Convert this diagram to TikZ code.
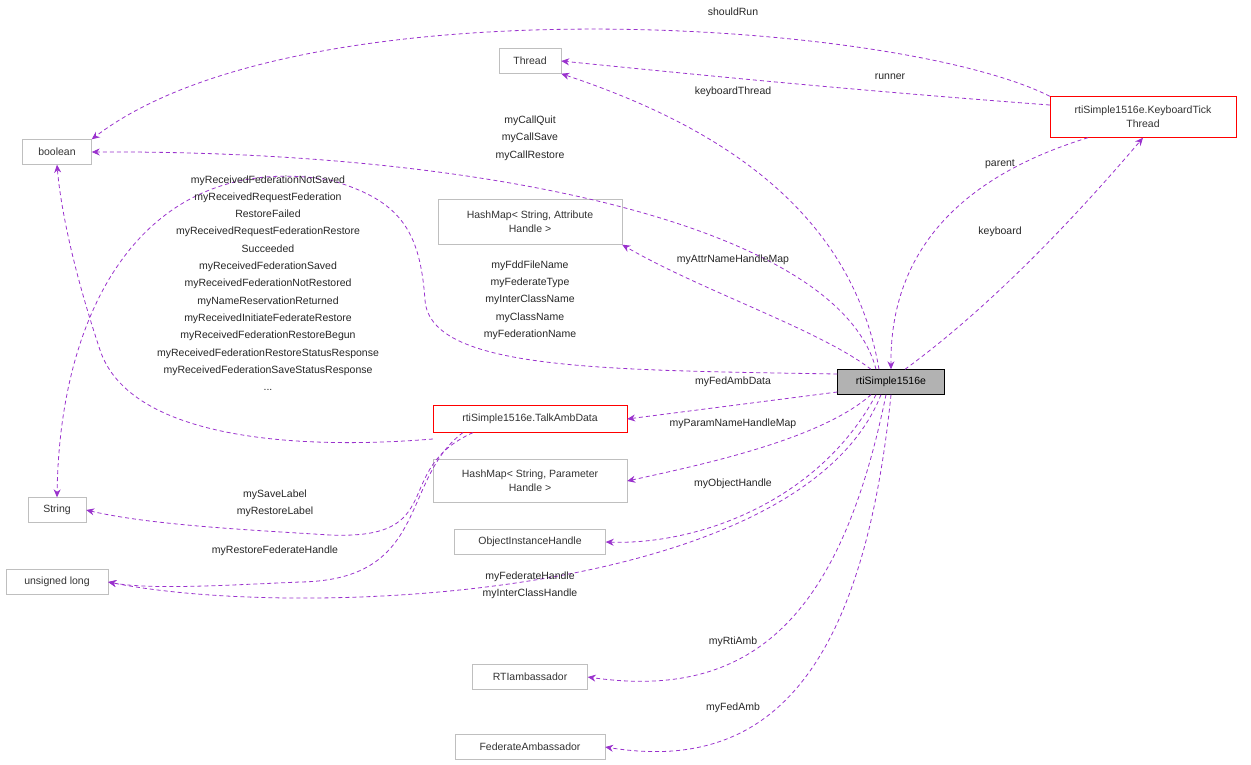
\documentclass[tikz,border=0pt]{standalone}
\usepackage{fontspec}
\setmainfont{Liberation Sans}
\usetikzlibrary{arrows.meta}
\definecolor{edgecol}{HTML}{9A32CD}
\definecolor{boxgray}{HTML}{BFBFBF}
\begin{document}
\begin{tikzpicture}[x=1pt,y=-1pt,
    every node/.style={font=\fontsize{10.5}{17.3}\selectfont},
    cls/.style={draw=boxgray,fill=white,inner sep=2pt,minimum height=25pt,align=center,text=black!80,
        font=\fontsize{10.5}{14}\selectfont},
    red cls/.style={cls,draw=red},
    lbl/.style={align=center,text=black!85},
    rel/.style={draw=edgecol,line width=0.8pt,dash pattern=on 4pt off 3pt,-{Stealth[length=8pt,width=7pt]}}]
    \useasboundingbox (0,0) rectangle (1251,764);

    \node[cls,minimum width=62pt] (thread) at (530,61) {Thread};
    \node[cls,minimum width=69pt] (bool) at (57,152) {boolean};
    \node[red cls,minimum width=186pt,minimum height=41pt] (ktt) at (1143,117) {rtiSimple1516e.KeyboardTick\\Thread};
    \node[cls,minimum width=184pt,minimum height=45pt] (hattr) at (530,222) {HashMap< String, Attribute\\Handle >};
    \node[cls,draw=black,fill=black!30,minimum width=107pt,text=black] (rti) at (891,382) {rtiSimple1516e};
    \node[red cls,minimum width=194pt,minimum height=27pt] (talk) at (530,419) {rtiSimple1516e.TalkAmbData};
    \node[cls,minimum width=58pt] (str) at (57,510) {String};
    \node[cls,minimum width=194pt,minimum height=43pt] (hparam) at (530,481) {HashMap< String, Parameter\\Handle >};
    \node[cls,minimum width=151pt] (oih) at (530,542) {ObjectInstanceHandle};
    \node[cls,minimum width=102pt] (ulong) at (57,582) {unsigned long};
    \node[cls,minimum width=115pt] (rtiamb) at (530,677) {RTIambassador};
    \node[cls,minimum width=150pt] (fedamb) at (530,747) {FederateAmbassador};

    % edges
    \draw[rel] (ktt.north west) .. controls (900,20) and (300,-20) .. (bool.north east);
    \draw[rel] (ktt.west) ++(0,-12) coordinate (k1) (k1) .. controls (850,90) and (700,75) .. (thread.east);
    \draw[rel] (rti.north) ++(-12,0) coordinate (r1) (r1) .. controls (850,200) and (700,120) .. (thread.south east);
    \draw[rel] (rti.north) ++(-15,0) coordinate (r2) (r2) .. controls (840,230) and (500,150) .. (bool.east);
    \draw[rel] (rti.north) ++(14,0) coordinate (r3) (r3) .. controls (1000,300) and (1090,200) .. (ktt.south);
    \draw[rel] (ktt.south) ++(-55,0) coordinate (k2) (k2) .. controls (950,180) and (890,260) .. (rti.north);
    \draw[rel] (rti.north) ++(-20,0) coordinate (r4) (r4) .. controls (820,330) and (700,290) .. (hattr.south east);
    \draw[rel] (rti.west) ++(0,-8) coordinate (r5) (r5) .. controls (600,370) and (430,370) .. (425,300)
        .. controls (420,230) and (400,200) .. (330,180) .. controls (150,150) and (60,300) .. (str.north);
    \draw[rel] (talk.west) ++(0,20) coordinate (t1) (t1) .. controls (300,450) and (130,440) .. (100,350) .. controls (70,260) and (60,200) .. (bool.south);
    \draw[rel] (rti.west) ++(0,10) coordinate (r6) (r6) -- (talk.east);
    \draw[rel] (rti.south) ++(-20,0) coordinate (r7) (r7) .. controls (820,440) and (700,465) .. (hparam.east);
    \draw[rel] (rti.south) ++(-15,0) coordinate (r8) (r8) .. controls (820,500) and (700,545) .. (oih.east);
    \draw[rel] (rti.south) ++(-10,0) coordinate (r9) (r9) .. controls (800,600) and (300,620) .. (ulong.east);
    \draw[rel] (rti.south) ++(-5,0) coordinate (r10) (r10) .. controls (840,620) and (750,700) .. (rtiamb.east);
    \draw[rel] (rti.south) coordinate (r11) (r11) .. controls (860,700) and (750,770) .. (fedamb.east);
    \draw[rel] (talk.south west) ++(40,0) coordinate (t2) (t2) .. controls (390,470) and (450,540) .. (330,535) .. controls (250,530) and (150,525) .. (str.east);
    \draw[rel] (talk.south west) ++(30,0) coordinate (t3) (t3) .. controls (400,480) and (430,580) .. (300,582) .. controls (230,585) and (150,590) .. (ulong.east);

    % labels
    \node[lbl] (l1) at (733,12) {shouldRun};
    \node[lbl] (l2) at (890,77) {runner};
    \node[lbl] (l3) at (733,92) {keyboardThread};
    \node[lbl] (l4) at (530,138) {myCallQuit\\myCallSave\\myCallRestore};
    \node[lbl] (l5) at (1000,164) {parent};
    \node[lbl] (l6) at (1000,232) {keyboard};
    \node[lbl] (l7) at (733,260) {myAttrNameHandleMap};
    \node[lbl] (l8) at (530,300) {myFddFileName\\myFederateType\\myInterClassName\\myClassName\\myFederationName};
    \node[lbl] (l9) at (268,283) {myReceivedFederationNotSaved\\myReceivedRequestFederation\\RestoreFailed\\myReceivedRequestFederationRestore\\Succeeded\\myReceivedFederationSaved\\myReceivedFederationNotRestored\\myNameReservationReturned\\myReceivedInitiateFederateRestore\\myReceivedFederationRestoreBegun\\myReceivedFederationRestoreStatusResponse\\myReceivedFederationSaveStatusResponse\\...};
    \node[lbl] (l10) at (733,382) {myFedAmbData};
    \node[lbl] (l11) at (733,424) {myParamNameHandleMap};
    \node[lbl] (l12) at (733,484) {myObjectHandle};
    \node[lbl] (l13) at (275,503) {mySaveLabel\\myRestoreLabel};
    \node[lbl] (l14) at (275,551) {myRestoreFederateHandle};
    \node[lbl] (l15) at (530,585) {myFederateHandle\\myInterClassHandle};
    \node[lbl] (l16) at (733,642) {myRtiAmb};
    \node[lbl] (l17) at (733,708) {myFedAmb};
\end{tikzpicture}
\end{document}
